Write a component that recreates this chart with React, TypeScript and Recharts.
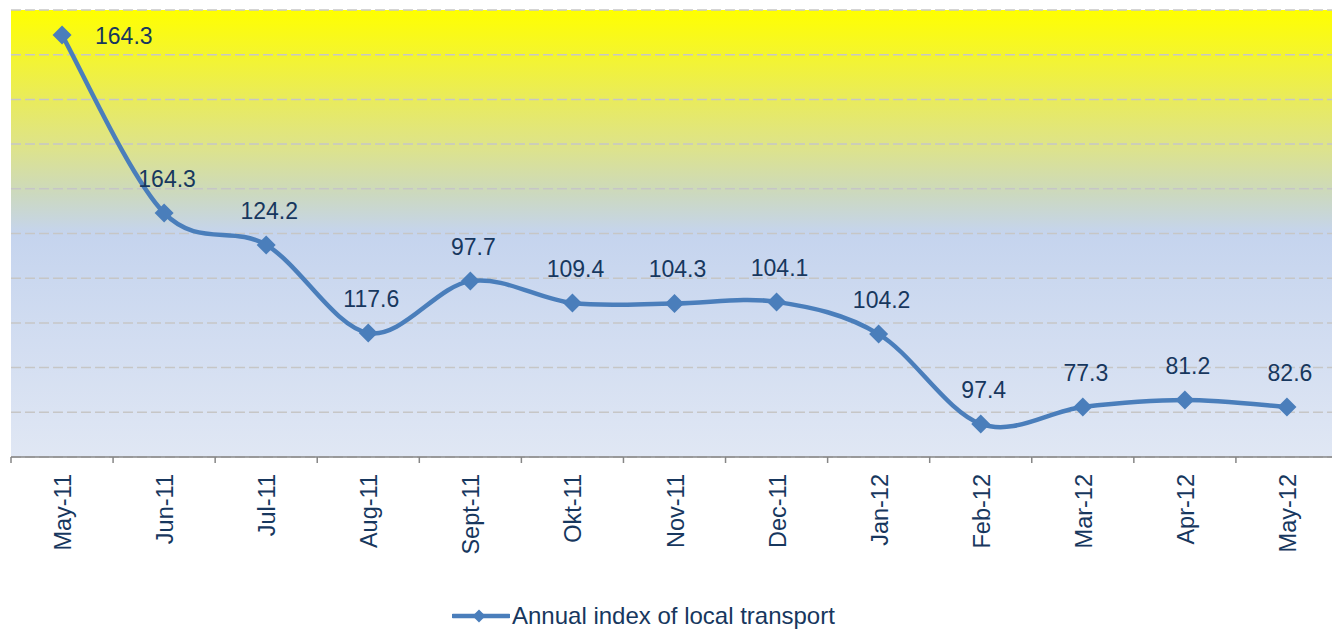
import React from 'react';
import { LineChart, Line, XAxis, YAxis, CartesianGrid, Legend, LabelList } from 'recharts';

const months = ['May-11', 'Jun-11', 'Jul-11', 'Aug-11', 'Sept-11', 'Okt-11', 'Nov-11', 'Dec-11', 'Jan-12', 'Feb-12', 'Mar-12', 'Apr-12', 'May-12'];
// point heights as plotted (0-200 scale)
const indexValues = [188.8, 109.2, 94.9, 55.5, 78.7, 68.9, 68.7, 69.4, 55.0, 14.8, 22.4, 25.5, 22.4];
// data labels exactly as printed on the chart
const pointLabels = ['164.3', '164.3', '124.2', '117.6', '97.7', '109.4', '104.3', '104.1', '104.2', '97.4', '77.3', '81.2', '82.6'];
const yTicks = [0, 20, 40, 60, 80, 100, 120, 140, 160, 180, 200];

const data = months.map((m, i) => ({ month: m, value: indexValues[i], label: pointLabels[i] }));

const FONT = '"Liberation Sans", Arial, sans-serif';
const NAVY = '#17375E';
const BLUE = '#4A7EBB';
const CHART_W = 1350;
const CHART_H = 631;
const MARGIN = { top: 10, right: 12, left: 11, bottom: 0 };
const PLOT_W = CHART_W - MARGIN.left - MARGIN.right;
const BAND = PLOT_W / months.length;

// Excel-style smoothing (Catmull-Rom through the points)
const smoothCurve: any = (context: any) => {
  let pts: number[][] = [];
  return {
    areaStart() {},
    areaEnd() {},
    lineStart() { pts = []; },
    lineEnd() {
      if (!pts.length) return;
      context.moveTo(pts[0][0], pts[0][1]);
      for (let i = 0; i < pts.length - 1; i++) {
        const p0 = pts[i - 1] || pts[i];
        const p1 = pts[i];
        const p2 = pts[i + 1];
        const p3 = pts[i + 2] || p2;
        context.bezierCurveTo(
          p1[0] + (p2[0] - p0[0]) / 6, p1[1] + (p2[1] - p0[1]) / 6,
          p2[0] - (p3[0] - p1[0]) / 6, p2[1] - (p3[1] - p1[1]) / 6,
          p2[0], p2[1]
        );
      }
    },
    point(x: number, y: number) { pts.push([x, y]); },
  };
};

const Diamond = (props: any) => {
  const { cx, cy } = props;
  if (cx == null || cy == null) return null;
  const r = 9.5;
  return <polygon points={`${cx},${cy - r} ${cx + r},${cy} ${cx},${cy + r} ${cx - r},${cy}`} fill={BLUE} />;
};

const MonthTick = (props: any) => {
  const { x, y, payload, index } = props;
  const left = x - BAND / 2;
  const last = index === months.length - 1;
  return (
    <g>
      <line x1={left} y1={y} x2={left} y2={y + 6} stroke="#868686" strokeWidth={1.5} />
      {last && <line x1={x + BAND / 2} y1={y} x2={x + BAND / 2} y2={y + 6} stroke="#868686" strokeWidth={1.5} />}
      <text
        x={x + 9}
        y={y + 17}
        transform={`rotate(-90, ${x + 9}, ${y + 17})`}
        textAnchor="end"
        fill={NAVY}
        fontSize={23.5}
        fontFamily={FONT}
      >
        {payload.value}
      </text>
    </g>
  );
};

const PointLabel = (props: any) => {
  const { x, y, index } = props;
  const first = index === 0;
  return (
    <text
      x={first ? x + 33 : x + 3}
      y={first ? y + 9 : y - 26}
      textAnchor={first ? 'start' : 'middle'}
      fill={NAVY}
      fontSize={23}
      fontFamily={FONT}
    >
      {pointLabels[index]}
    </text>
  );
};

const LegendContent = () => (
  <div style={{ display: 'flex', alignItems: 'center', fontFamily: FONT }}>
    <svg width={58} height={16}>
      <line x1={1} y1={8} x2={57} y2={8} stroke={BLUE} strokeWidth={4.5} strokeLinecap="round" />
      <polygon points="27,1.5 33.5,8 27,14.5 20.5,8" fill={BLUE} />
    </svg>
    <span style={{ fontSize: 24, color: NAVY, marginLeft: 2, whiteSpace: 'nowrap' }}>Annual index of local transport</span>
  </div>
);

export default function App() {
  return (
    <div style={{ position: 'absolute', left: 0, top: 0, width: 1332, height: 631, overflow: 'hidden', background: '#fff' }}>
      <LineChart width={CHART_W} height={CHART_H} data={data} margin={MARGIN}>
        <defs>
          <linearGradient id="plotBg" x1="0" y1="0" x2="0" y2="1">
            <stop offset="0" stopColor="#FFFF00" />
            <stop offset="0.2" stopColor="#E9EB5C" />
            <stop offset="0.31" stopColor="#DDE38C" />
            <stop offset="0.41" stopColor="#CCD9BE" />
            <stop offset="0.5" stopColor="#C5D4EE" />
            <stop offset="1" stopColor="#E0E7F4" />
          </linearGradient>
        </defs>
        <CartesianGrid
          vertical={false}
          fill="url(#plotBg)"
          fillOpacity={1}
          stroke="#C6C6C6"
          strokeWidth={1.5}
          strokeDasharray="10 4"
        />
        <YAxis hide domain={[0, 200]} ticks={yTicks} />
        <XAxis
          dataKey="month"
          height={174}
          interval={0}
          padding={{ left: BAND / 2, right: BAND / 2 }}
          tickSize={0}
          tickMargin={0}
          tickLine={false}
          axisLine={{ stroke: '#868686', strokeWidth: 1.5 }}
          tick={<MonthTick />}
        />
        <Legend
          verticalAlign="middle"
          align="center"
          layout="horizontal"
          content={<LegendContent />}
          wrapperStyle={{ left: 452, top: 602, width: 420 }}
        />
        <Line
          type={smoothCurve}
          dataKey="value"
          name="Annual index of local transport"
          stroke={BLUE}
          strokeWidth={4.5}
          dot={<Diamond />}
          activeDot={false}
          isAnimationActive={false}
        >
          <LabelList dataKey="label" content={<PointLabel />} />
        </Line>
      </LineChart>
    </div>
  );
}
